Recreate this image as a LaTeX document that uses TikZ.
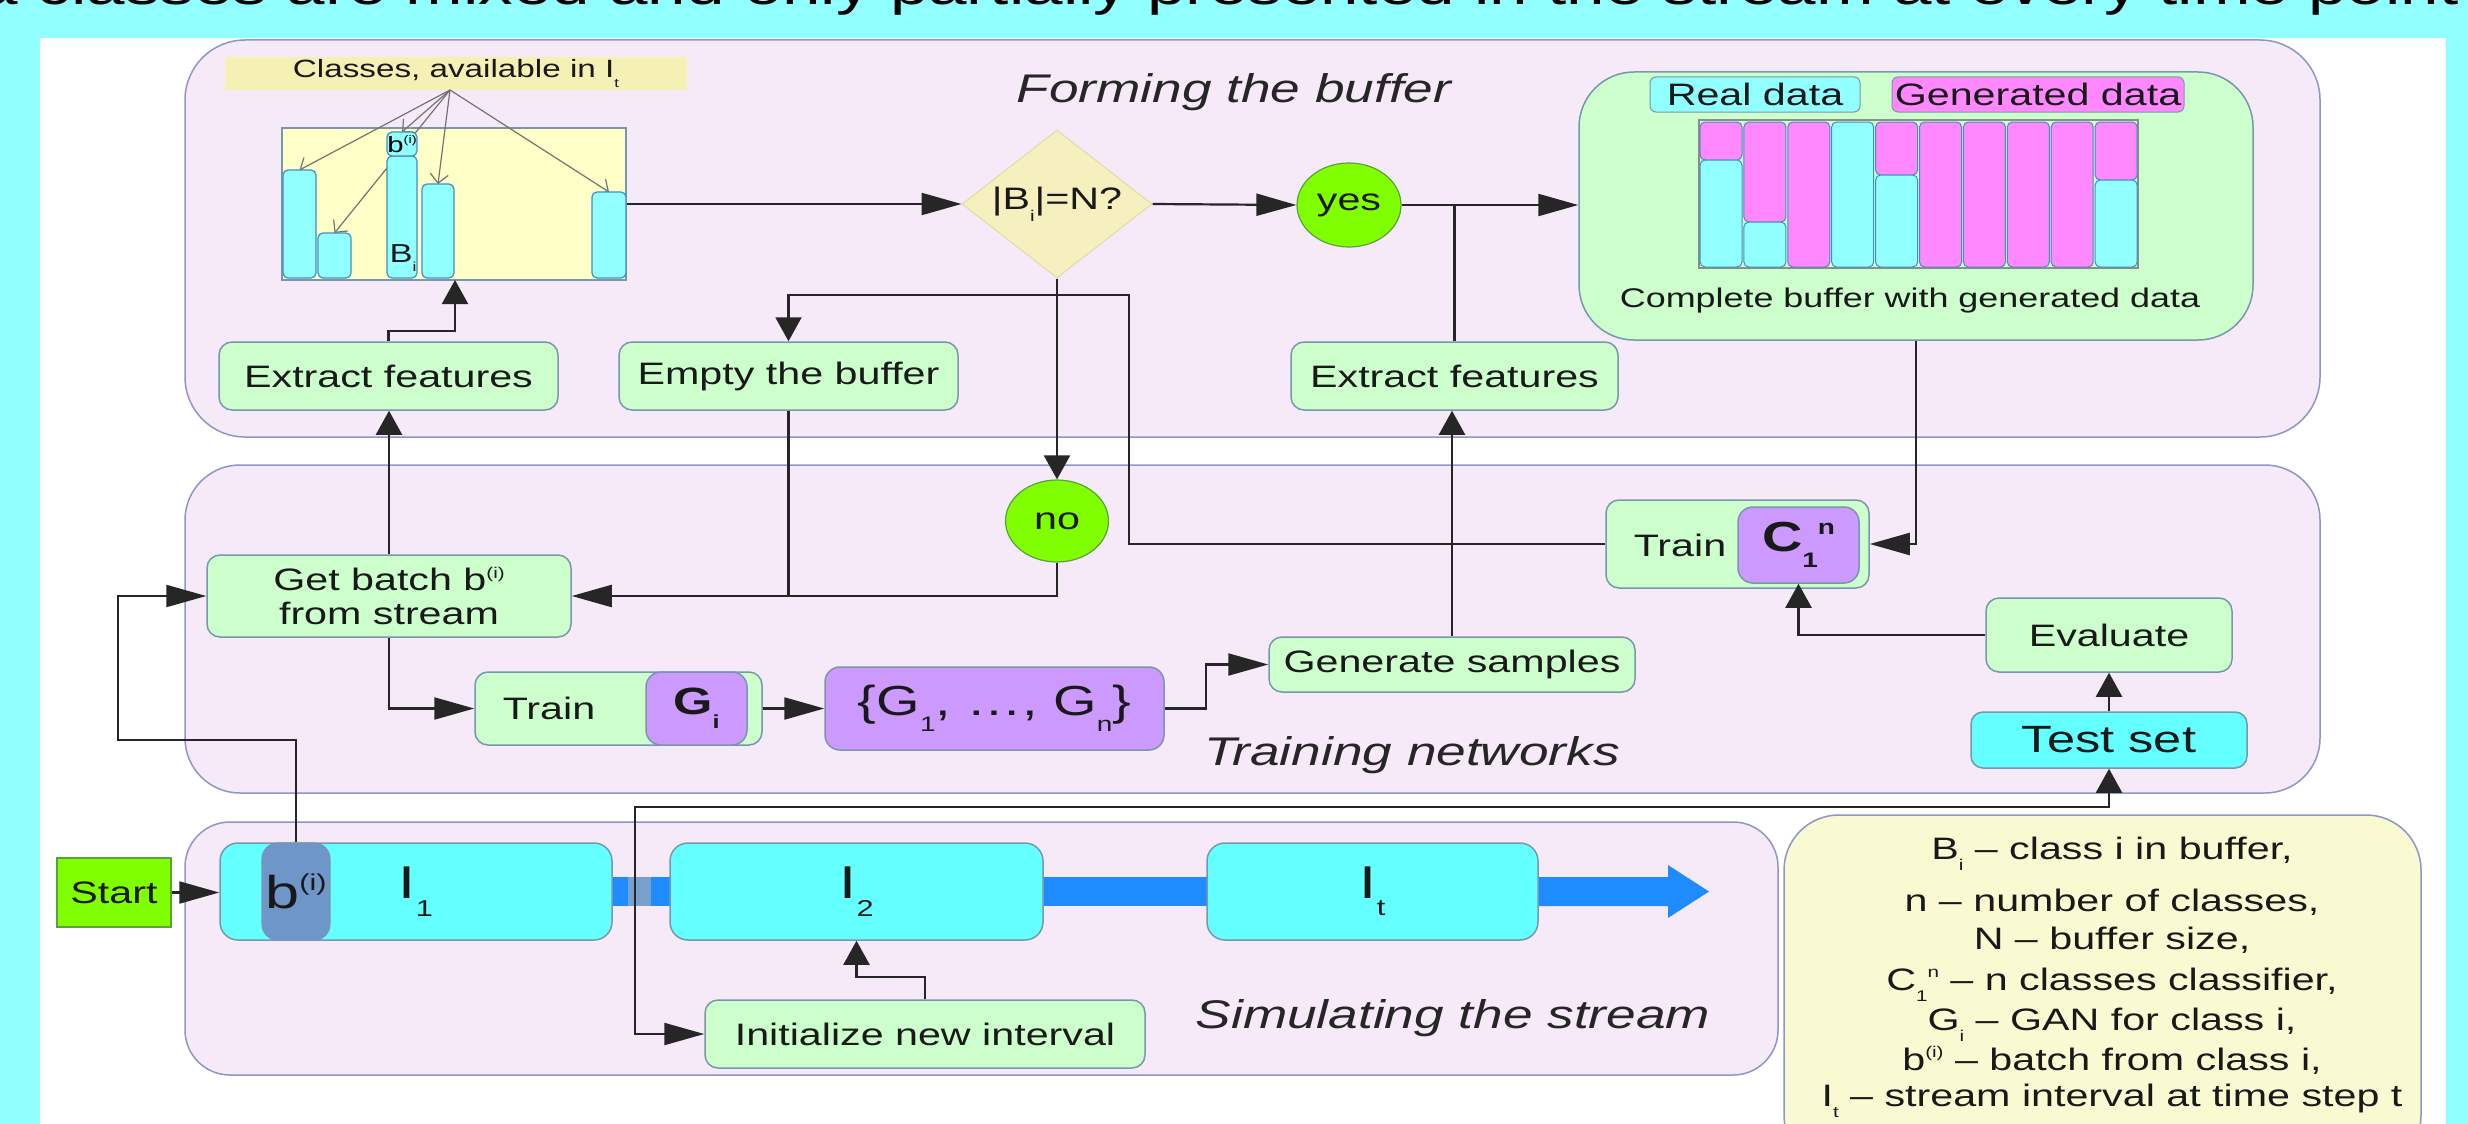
\documentclass[tikz,border=0pt]{standalone}
\usepackage{fontspec}
\setmainfont{Liberation Sans}[FakeStretch=1.33]
\usetikzlibrary{shapes.geometric,arrows.meta}
\definecolor{bgcyan}{RGB}{145,255,255}
\definecolor{panelfill}{RGB}{246,234,249}
\definecolor{panelline}{RGB}{140,150,200}
\definecolor{greenfill}{RGB}{204,255,204}
\definecolor{boxline}{RGB}{120,150,175}
\definecolor{cyanbox}{RGB}{100,255,255}
\definecolor{barcyan}{RGB}{145,255,255}
\definecolor{barline}{RGB}{70,140,190}
\definecolor{purplefill}{RGB}{204,153,255}
\definecolor{pinkfill}{RGB}{255,136,255}
\definecolor{limegreen}{RGB}{128,255,0}
\definecolor{limeline}{RGB}{90,160,60}
\definecolor{diamondfill}{RGB}{245,240,190}
\definecolor{diamondline}{RGB}{225,220,165}
\definecolor{paleyellow}{RGB}{255,255,200}
\definecolor{labelyellow}{RGB}{245,240,180}
\definecolor{legendfill}{RGB}{250,250,210}
\definecolor{steelblue}{RGB}{110,150,200}
\definecolor{streamblue}{RGB}{30,140,255}
\definecolor{junction}{RGB}{120,160,205}
\newcommand\myfs[2]{\fontsize{#1}{#2}\selectfont}
\newcommand\lsub[1]{\raisebox{-0.38em}{\scalebox{0.5}{#1}}}
\newcommand\lsup[1]{\raisebox{0.4em}{\scalebox{0.5}{#1}}}
\begin{document}
\begin{tikzpicture}[x=1pt,y=-1pt,
  panel/.style={draw=panelline, fill=panelfill, line width=1.5pt, inner sep=0pt},
  gbox/.style={draw=boxline, fill=greenfill, rounded corners=13pt, line width=1.5pt, inner sep=0pt, font=\myfs{31}{34}, align=center, text=black!90},
  pbox/.style={draw=boxline, fill=purplefill, rounded corners=15pt, line width=1.5pt, inner sep=0pt, text=black!90},
  cbox/.style={draw=boxline, fill=cyanbox, rounded corners=18pt, line width=1.5pt, inner sep=0pt, text=black!90},
  bar/.style={draw=barline, fill=barcyan, rounded corners=5pt, line width=1.2pt, inner sep=0pt},
  circ/.style={ellipse, draw=limeline, fill=limegreen, line width=1.2pt, inner sep=0pt, font=\myfs{31}{34}, text=black!90},
  conn/.style={line width=2.2pt, draw=black!85},
  harr/.style={conn, -{Triangle[length=40pt,width=22pt]}},
  varr/.style={conn, -{Triangle[length=24pt,width=26pt]}},
  fan/.style={draw=black!55, line width=1.2pt, -{Straight Barb[length=9pt,width=18pt,line width=1.2pt]}},
  title/.style={font=\myfs{40}{46}\itshape, text=black!85, inner sep=0pt, anchor=base},
  leg/.style={font=\myfs{31}{38}, inner sep=0pt, anchor=base, text=black!90},
  lbl/.style={font=\myfs{31}{34}, inner sep=0pt, text=black!90}
]
\clip (0,0) rectangle (2468,1124);
\fill[bgcyan] (0,0) rectangle (2468,1124);
\fill[white] (40,38) rectangle (2446,1124);
\node[anchor=base west, font=\myfs{52}{60}, inner sep=0pt] (caption) at (-21,5) {a classes are mixed and only partially presented in the stream at every time point};

% panels
\node[panel, rounded corners=60pt, minimum width=2135pt, minimum height=397pt] (pbuf) at (1252.5,238.5) {};
\node[panel, rounded corners=55pt, minimum width=2135pt, minimum height=328pt] (ptrain) at (1252.5,629) {};
\node[panel, rounded corners=45pt, minimum width=1593pt, minimum height=253pt] (psim) at (981.5,948.5) {};
\node[panel, fill=legendfill, rounded corners=55pt, minimum width=637pt, minimum height=355pt] (pleg) at (2102.5,992.5) {};

\node[title] (tbuf) at (1234,102) {Forming the buffer};
\node[title] (ttrain) at (1412,765) {Training networks};
\node[title] (tsim) at (1453,1028) {Simulating the stream};

% classes buffer
\node[fill=labelyellow, minimum width=462pt, minimum height=33pt, inner sep=0pt, font=\myfs{25}{30}, text=black!90] (cls) at (456,73.5) {Classes, available in I\lsub{t}};
\coordinate (fanorig) at (450,90);
\node[draw=boxline, fill=paleyellow, line width=1.2pt, minimum width=344pt, minimum height=152pt, inner sep=0pt] (buf) at (454,204) {};
\coordinate (b1t) at (299.5,170);
\coordinate (b2t) at (334.5,233);
\coordinate (b3t) at (402,132);
\coordinate (b4t) at (438,184);
\coordinate (b5t) at (609,192);
\draw[fan] (fanorig) -- (b1t);
\draw[fan] (fanorig) -- (b2t);
\draw[fan] (fanorig) -- (b3t);
\draw[fan] (fanorig) -- (b4t);
\draw[fan] (fanorig) -- (b5t);
\node[bar, minimum width=33pt, minimum height=108pt] (bar1) at (299.5,224) {};
\node[bar, minimum width=33pt, minimum height=45pt] (bar2) at (334.5,255.5) {};
\node[bar, minimum width=30pt, minimum height=122pt] (bar3) at (402,217) {};
\node[bar, minimum width=30pt, minimum height=24pt, font=\myfs{22}{24}] (bar3cap) at (402,144) {b\lsup{(i)}};
\node[bar, minimum width=32pt, minimum height=94pt] (bar4) at (438,231) {};
\node[bar, minimum width=34pt, minimum height=86pt] (bar5) at (609,235) {};
\node[font=\myfs{26}{28}, inner sep=0pt, text=black!90] (bilab) at (403,258) {B\lsub{i}};

% decision
\node[diamond, draw=diamondline, fill=diamondfill, line width=1pt, minimum width=190pt, minimum height=148pt, inner sep=0pt, aspect=1.28, font=\myfs{31}{34}, text=black!90] (dia) at (1057,204) {|B\lsub{i}|=N?};
\node[circ, minimum width=104pt, minimum height=84pt] (yes) at (1349,205) {yes};
\node[circ, minimum width=103pt, minimum height=82pt] (no) at (1057,521) {no};

% complete buffer
\node[draw=boxline, fill=greenfill, rounded corners=55pt, line width=1.5pt, minimum width=674pt, minimum height=268pt, inner sep=0pt] (cbuf) at (1916,206) {};
\node[draw=boxline, fill=barcyan, rounded corners=6pt, line width=1pt, minimum width=210pt, minimum height=35pt, inner sep=0pt, font=\myfs{31}{34}, text=black!90] (real) at (1755,94.5) {Real data};
\node[draw=boxline, fill=pinkfill, rounded corners=6pt, line width=1pt, minimum width=292pt, minimum height=35pt, inner sep=0pt, font=\myfs{31}{34}, text=black!90] (gen) at (2038,94.5) {Generated data};
\node[draw=black!45, line width=1.2pt, minimum width=439pt, minimum height=148pt, inner sep=0pt] (sbars) at (1918.5,194) {};
\foreach \k/\s in {0/160,1/222,2/267,3/122,4/175,5/267,6/267,7/267,8/267,9/180}{
  \pgfmathsetmacro\xa{1700+43.9*\k}
  \pgfmathsetmacro\xb{\xa+42}
  \ifnum\s>122 \draw[draw=barline, fill=pinkfill, rounded corners=5pt, line width=1pt] (\xa,122) rectangle (\xb,\s); \fi
  \ifnum\s<267 \draw[draw=barline, fill=barcyan, rounded corners=5pt, line width=1pt] (\xa,\s) rectangle (\xb,267); \fi
}
\node[font=\myfs{27}{32}, inner sep=0pt, text=black!90] (ctext) at (1910,301) {Complete buffer with generated data};

\node[gbox, minimum width=339pt, minimum height=68pt] (ef1) at (388.5,376) {Extract features};
\node[gbox, minimum width=339pt, minimum height=68pt] (eb) at (788.5,376) {Empty the buffer};
\node[gbox, minimum width=327pt, minimum height=68pt] (ef2) at (1454.5,376) {Extract features};

% training
\node[gbox, minimum width=364pt, minimum height=82pt] (gb) at (389,596) {Get batch b\lsup{(i)}\\from stream};
\node[gbox, minimum width=287pt, minimum height=73pt] (tg) at (618.5,708.5) {};
\node[lbl] (tgl) at (549,708) {Train};
\node[pbox, minimum width=101pt, minimum height=73pt, font=\myfs{38}{40}\bfseries] (Gi) at (696.5,708.5) {G\lsub{i}};
\node[pbox, minimum width=339pt, minimum height=83pt, font=\myfs{42}{46}] (gset) at (994.5,708.5) {\{G\lsub{1}, …, G\lsub{n}\}};
\node[gbox, minimum width=366pt, minimum height=55pt] (gs) at (1452,664.5) {Generate samples};
\node[gbox, minimum width=263pt, minimum height=88pt] (tc) at (1737.5,544) {};
\node[lbl] (tcl) at (1680,545) {Train};
\node[pbox, minimum width=121pt, minimum height=76pt, font=\myfs{42}{46}\bfseries] (Cn) at (1798.5,545) {C\lsub{1}\lsup{n}};
\node[gbox, minimum width=246pt, minimum height=74pt] (ev) at (2109,635) {Evaluate};
\node[cbox, rounded corners=12pt, minimum width=276pt, minimum height=56pt, font=\myfs{38}{42}] (ts) at (2109,740) {Test set};

% stream
\node[draw=limeline, fill=limegreen, line width=1.2pt, minimum width=114pt, minimum height=69pt, inner sep=0pt, font=\myfs{31}{34}, text=black!90] (st) at (114,892.5) {Start};
\node[fill=streamblue, minimum width=58pt, minimum height=29pt, inner sep=0pt] (sb1) at (641,891.5) {};
\node[fill=junction, minimum width=23pt, minimum height=29pt, inner sep=0pt] (sbj) at (639.5,891.5) {};
\node[fill=streamblue, minimum width=164pt, minimum height=29pt, inner sep=0pt] (sb2) at (1125,891.5) {};
\fill[streamblue] (1536,877) -- (1668,877) -- (1668,865) -- (1709,891.5) -- (1668,918) -- (1668,906) -- (1536,906) -- cycle;
\node[cbox, minimum width=392pt, minimum height=97pt, font=\myfs{46}{48}] (I1) at (416,891.5) {I\lsub{1}};
\node[draw=boxline, fill=steelblue, rounded corners=16pt, line width=1.2pt, minimum width=68pt, minimum height=97pt, inner sep=0pt, font=\myfs{46}{48}, text=black!90] (bi) at (296,891.5) {b\lsup{(i)}};
\node[cbox, minimum width=373pt, minimum height=97pt, font=\myfs{46}{48}] (I2) at (856.5,891.5) {I\lsub{2}};
\node[cbox, minimum width=331pt, minimum height=97pt, font=\myfs{46}{48}] (It) at (1372.5,891.5) {I\lsub{t}};
\node[gbox, minimum width=440pt, minimum height=68pt] (ini) at (925,1034) {Initialize new interval};

% legend
\node[leg] (l1) at (2112,859) {B\lsub{i} -- class i in buffer,};
\node[leg] (l2) at (2112,911) {n -- number of classes,};
\node[leg] (l3) at (2112,949) {N -- buffer size,};
\node[leg] (l4) at (2112,990) {C\lsub{1}\lsup{n} -- n classes classifier,};
\node[leg] (l5) at (2112,1030) {G\lsub{i} -- GAN for class i,};
\node[leg] (l6) at (2112,1070) {b\lsup{(i)} -- batch from class i,};
\node[leg] (l7) at (2112,1106) {I\lsub{t} -- stream interval at time step t};

% connectors
\coordinate (bufin) at (455,280);
\coordinate (loopc) at (1129,295);
\coordinate (lft) at (118,740);
\coordinate (jn) at (635,891.5);
\draw[harr] (buf.east |- dia.west) -- (dia.west);
\draw[harr] (dia.east) -- (yes.west);
\draw[harr] (yes.east) -- (yes.east -| cbuf.west);
\draw[conn] (ef2.north) -- (ef2.north |- yes.east);
\draw[varr] (dia.south) -- (dia.south |- no.north);
\draw[varr] (tc.west) -| (loopc) -| (eb.north);
\draw[conn] (eb.south) -- (eb.south |- gb.east);
\draw[harr] (no.south) |- (gb.east);
\draw[varr] (ef1.north) -- ++(0,-10) -| (bufin);
\draw[varr] (gb.north) -- (gb.north |- ef1.south);
\draw[harr] (gb.south) |- (tg.west);
\draw[harr] (tg.east) -- (gset.west);
\draw[harr] (gset.east) -- ++(41,0) |- (gs.west);
\draw[varr] (gs.north) -- (gs.north |- ef2.south);
\draw[harr] (cbuf.south) |- (tc.east);
\draw[varr] (ev.west) -| (Cn.south);
\draw[varr] (ts.north) -- (ev.south);
\draw[varr] (jn) -- ++(0,-84.5) -| (ts.south);
\draw[harr] (jn) |- (ini.west);
\draw[varr] (ini.north) -- ++(0,-22) -| (I2.south);
\draw[harr] (st.east) -- (st.east -| I1.west);
\draw[harr] (bi.north) |- (lft) |- (gb.west);
\end{tikzpicture}
\end{document}
